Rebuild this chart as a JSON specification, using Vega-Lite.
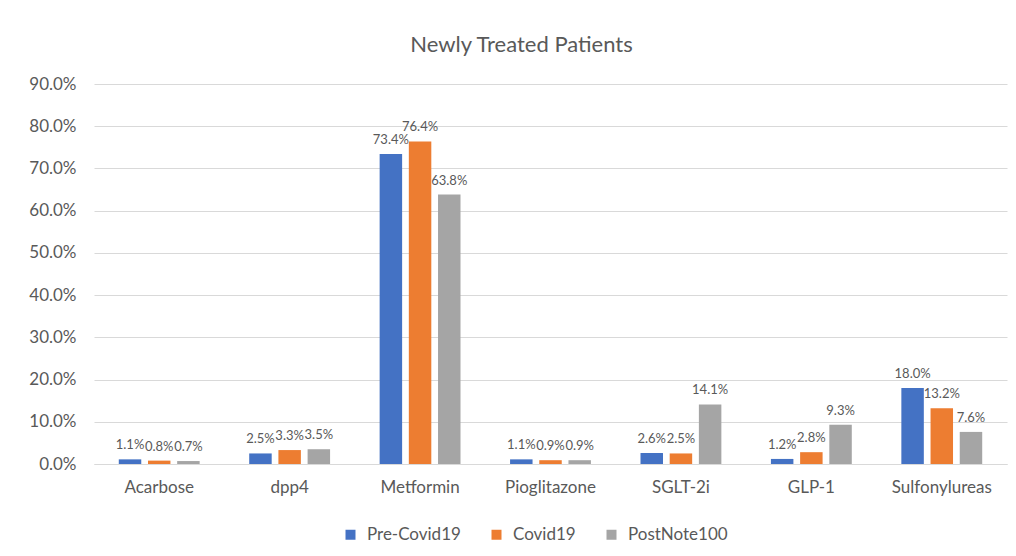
{
  "$schema": "https://vega.github.io/schema/vega-lite/v6.json",
  "width": 913,
  "height": 380,
  "autosize": "none",
  "padding": {"left": 94, "top": 84, "right": 9, "bottom": 92},
  "background": "white",
  "title": {
    "text": "Newly Treated Patients",
    "font": "Lato",
    "fontSize": 22,
    "fontWeight": "normal",
    "color": "#595959",
    "anchor": "middle",
    "dx": -29,
    "offset": 18
  },
  "config": {
    "view": {"stroke": null},
    "font": "Lato"
  },
  "data": {
    "values": [
      {"drug": "Acarbose", "period": "Pre-Covid19", "share": 0.011},
      {"drug": "Acarbose", "period": "Covid19", "share": 0.008},
      {"drug": "Acarbose", "period": "PostNote100", "share": 0.007},
      {"drug": "dpp4", "period": "Pre-Covid19", "share": 0.025},
      {"drug": "dpp4", "period": "Covid19", "share": 0.033},
      {"drug": "dpp4", "period": "PostNote100", "share": 0.035},
      {"drug": "Metformin", "period": "Pre-Covid19", "share": 0.734},
      {"drug": "Metformin", "period": "Covid19", "share": 0.764},
      {"drug": "Metformin", "period": "PostNote100", "share": 0.638},
      {"drug": "Pioglitazone", "period": "Pre-Covid19", "share": 0.011},
      {"drug": "Pioglitazone", "period": "Covid19", "share": 0.009},
      {"drug": "Pioglitazone", "period": "PostNote100", "share": 0.009},
      {"drug": "SGLT-2i", "period": "Pre-Covid19", "share": 0.026},
      {"drug": "SGLT-2i", "period": "Covid19", "share": 0.025},
      {"drug": "SGLT-2i", "period": "PostNote100", "share": 0.141},
      {"drug": "GLP-1", "period": "Pre-Covid19", "share": 0.012},
      {"drug": "GLP-1", "period": "Covid19", "share": 0.028},
      {"drug": "GLP-1", "period": "PostNote100", "share": 0.093},
      {"drug": "Sulfonylureas", "period": "Pre-Covid19", "share": 0.18},
      {"drug": "Sulfonylureas", "period": "Covid19", "share": 0.132},
      {"drug": "Sulfonylureas", "period": "PostNote100", "share": 0.076}
    ]
  },
  "encoding": {
    "x": {
      "field": "drug",
      "type": "nominal",
      "sort": ["Acarbose", "dpp4", "Metformin", "Pioglitazone", "SGLT-2i", "GLP-1", "Sulfonylureas"],
      "scale": {"paddingInner": 0.38, "paddingOuter": 0.19},
      "axis": {
        "title": null,
        "labelAngle": 0,
        "labelFont": "Lato",
        "labelFontSize": 17,
        "labelColor": "#595959",
        "labelPadding": 15,
        "ticks": false,
        "domainColor": "#d9d9d9"
      }
    },
    "xOffset": {
      "field": "period",
      "type": "nominal",
      "sort": ["Pre-Covid19", "Covid19", "PostNote100"],
      "scale": {"paddingInner": 0.23}
    },
    "y": {
      "field": "share",
      "type": "quantitative",
      "scale": {"domain": [0, 0.9]},
      "axis": {
        "title": null,
        "format": ".1%",
        "values": [0, 0.1, 0.2, 0.3, 0.4, 0.5, 0.6, 0.7, 0.8, 0.9],
        "labelFont": "Lato",
        "labelFontSize": 17,
        "labelColor": "#595959",
        "labelPadding": 18,
        "ticks": false,
        "domain": false,
        "gridColor": "#d9d9d9",
        "gridWidth": 1
      }
    }
  },
  "layer": [
    {
      "mark": {"type": "bar"},
      "encoding": {
        "color": {
          "field": "period",
          "type": "nominal",
          "sort": ["Pre-Covid19", "Covid19", "PostNote100"],
          "scale": {
            "domain": ["Pre-Covid19", "Covid19", "PostNote100"],
            "range": ["#4472C4", "#ED7D31", "#A5A5A5"]
          },
          "legend": {
            "title": null,
            "orient": "none",
            "legendX": 248,
            "legendY": 442,
            "direction": "horizontal",
            "symbolType": "square",
            "symbolSize": 100,
            "symbolStrokeWidth": 0,
            "labelFont": "Lato",
            "labelFontSize": 17,
            "labelColor": "#595959",
            "labelOffset": 8,
            "columnPadding": 27
          }
        }
      }
    },
    {
      "mark": {
        "type": "text",
        "baseline": "bottom",
        "dy": -7,
        "fontSize": 13,
        "font": "Lato",
        "color": "#595959"
      },
      "encoding": {
        "text": {"field": "share", "type": "quantitative", "format": ".1%"}
      }
    }
  ]
}
